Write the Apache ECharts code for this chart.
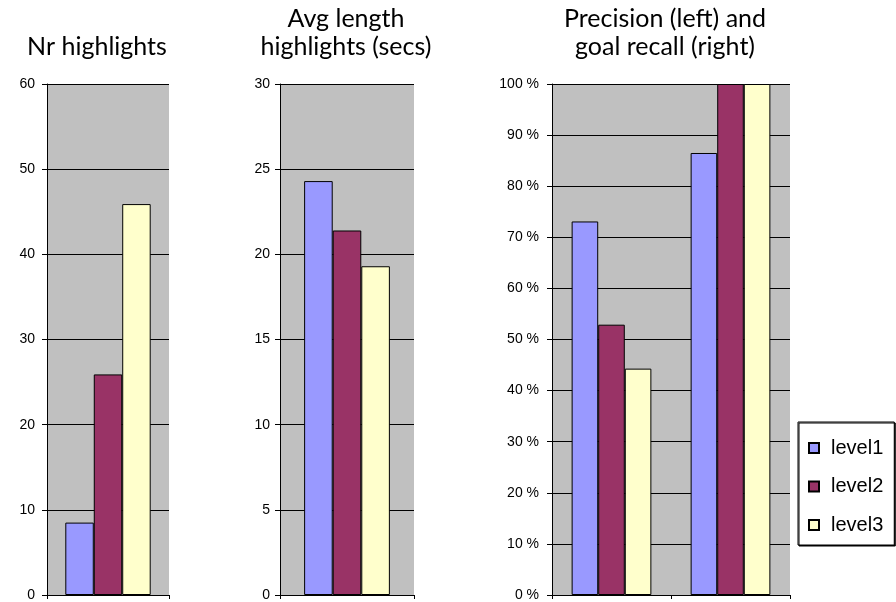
<!DOCTYPE html>
<html>
<head>
<meta charset="utf-8">
<script src="https://cdn.jsdelivr.net/npm/echarts@6/dist/echarts.min.js"></script>
<style>html,body{margin:0;padding:0;background:#fff}#c{width:896px;height:602px}</style>
</head>
<body>
<div id="c"></div>
<script>
const levels = ['level1', 'level2', 'level3'];
const levelColors = ['#9999FF', '#993366', '#FFFFCC'];
const titles = ['Nr highlights', 'Avg length\nhighlights (secs)', 'Precision (left) and\ngoal recall (right)'];
const cats1 = ['Nr highlights'];
const cats2 = ['Avg length'];
const cats3 = ['Precision', 'Goal recall'];
// values per level
const nrHighlights = [8.5, 25.9, 45.9];          // level1, level2, level3
const avgLength = [24.3, 21.4, 19.3];            // level1, level2, level3
const level1PR = [73.1, 86.5];
const level2PR = [52.9, 100];
const level3PR = [44.3, 100];
const yMax = [60, 30, 100];
const yInterval = [10, 5, 10];

const chart = echarts.init(document.getElementById('c'));

const grids = [
  {left: 47, width: 122, top: 84, bottom: 6},
  {left: 280, width: 134, top: 84, bottom: 6},
  {left: 552, width: 238, top: 84, bottom: 6}
];
const gaps = ['30%', '36%', '33%'];
const catLists = [cats1, cats2, cats3];

const xAxes = catLists.map((c, i) => ({
  type: 'category', gridIndex: i, data: c,
  axisLine: {show: true, lineStyle: {color: '#000', width: 1}},
  axisTick: {show: true, length: 4, lineStyle: {color: '#000'}},
  axisLabel: {show: false},
  splitLine: {show: false}
}));
const yAxes = [0, 1, 2].map(i => ({
  type: 'value', gridIndex: i, min: 0, max: yMax[i], interval: yInterval[i],
  axisLine: {show: true, lineStyle: {color: '#000', width: 1}},
  axisTick: {show: true, length: 5, lineStyle: {color: '#000'}},
  splitLine: {show: true, lineStyle: {color: '#000', width: 1}},
  axisLabel: {
    color: '#000', fontFamily: 'Liberation Sans', fontSize: 14, margin: [12, 10, 13][i],
    formatter: i === 2 ? (v => v + ' %') : (v => String(v))
  }
}));

const series = [];
const valsByLevel3 = [level1PR, level2PR, level3PR];
levels.forEach((lv, k) => {
  const style = {color: levelColors[k], borderColor: '#000', borderWidth: 1};
  series.push({name: lv, type: 'bar', xAxisIndex: 0, yAxisIndex: 0, data: [nrHighlights[k]],
    barGap: '0%', barCategoryGap: gaps[0], itemStyle: style, silent: true});
  series.push({name: lv, type: 'bar', xAxisIndex: 1, yAxisIndex: 1, data: [avgLength[k]],
    barGap: '0%', barCategoryGap: gaps[1], itemStyle: style, silent: true});
  series.push({name: lv, type: 'bar', xAxisIndex: 2, yAxisIndex: 2, data: valsByLevel3[k],
    barGap: '0%', barCategoryGap: gaps[2], itemStyle: style, silent: true});
});

const titleStyle = {fontFamily: 'Lato', fontSize: 25, fontWeight: 'normal', color: '#000', lineHeight: 28};
chart.setOption({
  animation: false,
  backgroundColor: '#fff',
  title: [
    {text: titles[0], left: 97, top: 33, textAlign: 'center', textStyle: titleStyle, padding: 0},
    {text: titles[1], left: 346, top: 5, textAlign: 'center', textStyle: titleStyle, padding: 0},
    {text: titles[2], left: 665, top: 5, textAlign: 'center', textStyle: titleStyle, padding: 0}
  ],
  grid: grids.map(g => Object.assign({show: true, backgroundColor: '#C0C0C0', borderWidth: 0, containLabel: false}, g)),
  xAxis: xAxes,
  yAxis: yAxes,
  legend: {
    data: levels,
    orient: 'vertical',
    left: 798, top: 422,
    padding: [16, 11, 10, 10],
    itemGap: 18.5,
    itemWidth: 10, itemHeight: 10,
    icon: 'rect',
    backgroundColor: '#fff',
    borderColor: '#000', borderWidth: 1,
    shadowColor: '#000', shadowBlur: 0, shadowOffsetX: 1, shadowOffsetY: 1,
    textStyle: {fontFamily: 'Liberation Sans', fontSize: 20, lineHeight: 20, color: '#000', padding: [0, 0, 0, 7]},
    selectedMode: false
  },
  series: series
});
</script>
</body>
</html>
